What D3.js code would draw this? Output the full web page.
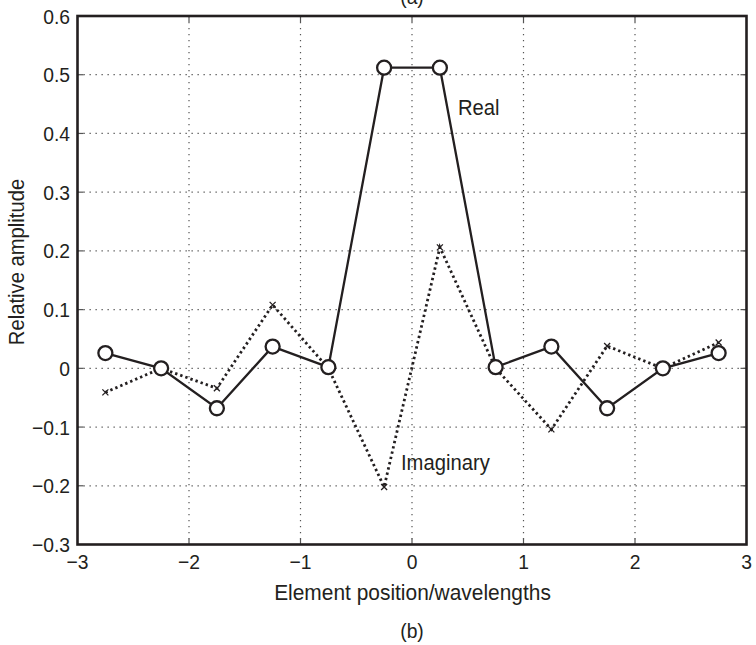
<!DOCTYPE html>
<html><head><meta charset="utf-8">
<script src="https://cdn.jsdelivr.net/npm/d3@7"></script>
<style>
html,body{margin:0;padding:0;background:#fff;}
text{font-family:"Liberation Sans",Arial,sans-serif;fill:#231f20;}
</style></head>
<body><svg id="c" width="756" height="645"></svg>
<script>
const positions = [-2.75,-2.25,-1.75,-1.25,-0.75,-0.25,0.25,0.75,1.25,1.75,2.25,2.75];
const realValues = [0.026,0.0,-0.068,0.037,0.002,0.512,0.512,0.002,0.037,-0.068,0.0,0.026];
const imagValues = [-0.041,0.0,-0.034,0.108,0.0,-0.202,0.206,0.0,-0.104,0.038,0.0,0.044];
const xTicks = [-3,-2,-1,0,1,2,3];
const yTicks = [-0.3,-0.2,-0.1,0,0.1,0.2,0.3,0.4,0.5,0.6];
const xTickLabels = ["\u22123","\u22122","\u22121","0","1","2","3"];
const yTickLabels = ["\u22120.3","\u22120.2","\u22120.1","0","0.1","0.2","0.3","0.4","0.5","0.6"];

const svg = d3.select("#c");
const L=77.5, R=746.5, T=16, B=544.5;
const x = d3.scaleLinear().domain([-3,3]).range([L,R]);
const y = d3.scaleLinear().domain([-0.3,0.6]).range([B,T]);
const ink="#231f20";
function label(parent, tx, ty, str, size, anchor, sx, rot){
  return parent.append("text")
    .attr("transform",`translate(${tx},${ty})${rot?` rotate(${rot})`:""} scale(${sx},1)`)
    .attr("text-anchor",anchor||"start").attr("font-size",size).text(str);
}

// grid
const g = svg.append("g");
g.selectAll("line.gx").data(xTicks.slice(1,-1)).join("line")
 .attr("x1",d=>x(d)).attr("x2",d=>x(d)).attr("y1",T).attr("y2",B)
 .attr("stroke","#555").attr("stroke-width",1.2).attr("stroke-dasharray","1.3,4.7");
g.selectAll("line.gy").data(yTicks.slice(1,-1)).join("line")
 .attr("y1",d=>y(d)).attr("y2",d=>y(d)).attr("x1",L).attr("x2",R)
 .attr("stroke","#555").attr("stroke-width",1.2).attr("stroke-dasharray","1.3,4.7");

// inward ticks
const tl=6;
[["bottom",B,-1],["top",T,1]].forEach(([n,yy,s])=>{
  g.selectAll("line.t"+n).data(xTicks.slice(1,-1)).join("line")
   .attr("x1",d=>x(d)).attr("x2",d=>x(d)).attr("y1",yy).attr("y2",yy+s*tl)
   .attr("stroke","#555").attr("stroke-width",1.2);
});
[["left",L,1],["right",R,-1]].forEach(([n,xx,s])=>{
  g.selectAll("line.t"+n).data(yTicks.slice(1,-1)).join("line")
   .attr("y1",d=>y(d)).attr("y2",d=>y(d)).attr("x1",xx).attr("x2",xx+s*tl)
   .attr("stroke","#555").attr("stroke-width",1.2);
});

// imaginary dotted line
const pts = positions.map((p,i)=>({p, r:realValues[i], im:imagValues[i]}));
svg.append("path").datum(pts)
 .attr("d",d3.line().x(d=>x(d.p)).y(d=>y(d.im)))
 .attr("fill","none").attr("stroke",ink).attr("stroke-width",2.8)
 .attr("stroke-dasharray","2.4,3.0");
const ms=3;
svg.append("g").selectAll("path").data(pts).join("path")
 .attr("d",d=>`M${x(d.p)-ms},${y(d.im)-ms}L${x(d.p)+ms},${y(d.im)+ms}M${x(d.p)-ms},${y(d.im)+ms}L${x(d.p)+ms},${y(d.im)-ms}`)
 .attr("stroke",ink).attr("stroke-width",1.3);

// real solid line
svg.append("path").datum(pts)
 .attr("d",d3.line().x(d=>x(d.p)).y(d=>y(d.r)))
 .attr("fill","none").attr("stroke",ink).attr("stroke-width",2.3);
svg.append("g").selectAll("circle").data(pts).join("circle")
 .attr("cx",d=>x(d.p)).attr("cy",d=>y(d.r)).attr("r",7)
 .attr("fill","#fff").attr("stroke",ink).attr("stroke-width",2.3);

// frame
svg.append("rect").attr("x",L).attr("y",T).attr("width",R-L).attr("height",B-T)
 .attr("fill","none").attr("stroke",ink).attr("stroke-width",2.6);

// tick labels
const gx = svg.append("g");
xTicks.forEach((d,i)=>label(gx, x(d), 569, xTickLabels[i], 21, "middle", 0.92));
const gy = svg.append("g");
yTicks.forEach((d,i)=>label(gy, 70, y(d)+7.5, yTickLabels[i], 21, "end", 0.92));

// axis titles
label(svg, 412.5, 600, "Element position/wavelengths", 22.5, "middle", 0.93);
label(svg, 24, 262, "Relative amplitude", 22, "middle", 0.92, -90);
label(svg, 412, 638, "(b)", 21, "middle", 0.92);
label(svg, 412, 4, "(a)", 21, "middle", 0.92);

// series labels
label(svg, 458, 115, "Real", 22, "start", 0.92);
label(svg, 401, 470, "Imaginary", 22, "start", 0.92);
</script></body></html>
